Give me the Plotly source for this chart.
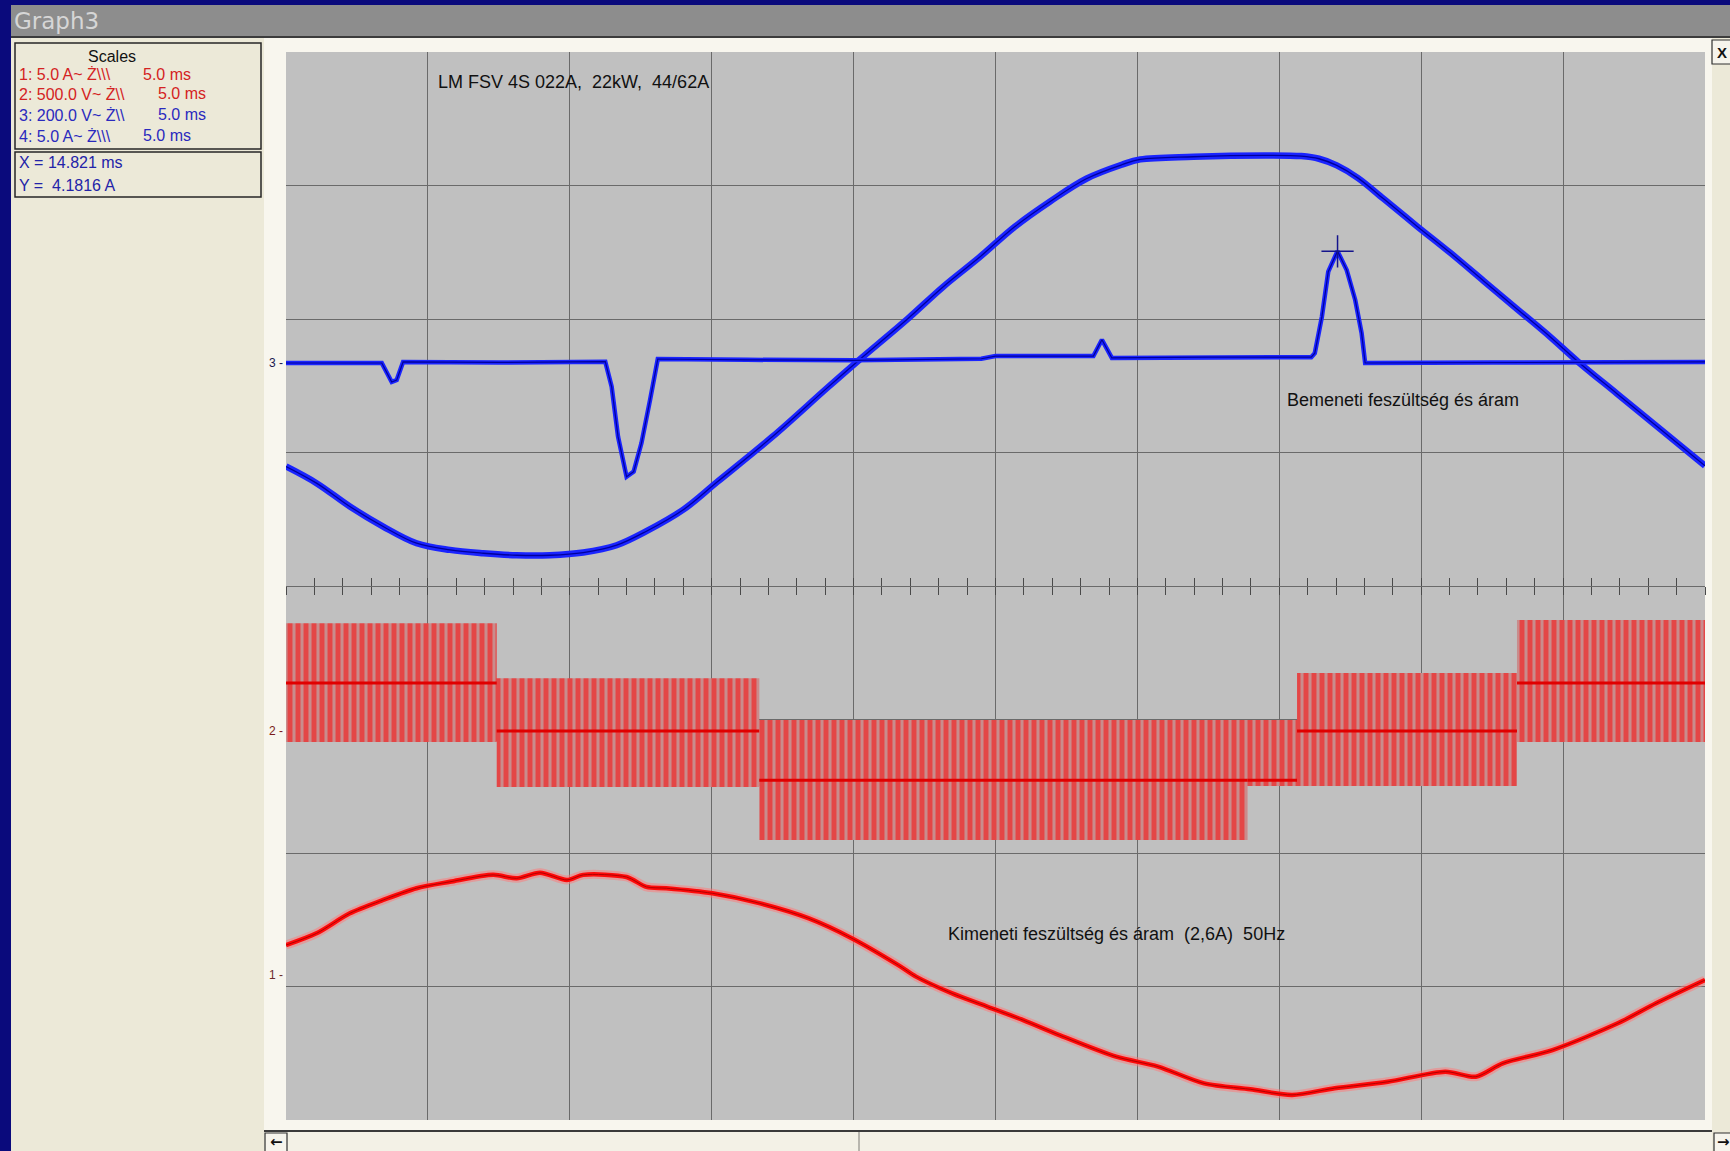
import plotly.graph_objects as go

# ---------------- data ----------------
# Channel 3: input voltage (blue), 200 V/div
ch3_t_ms = [0.0, 0.43, 0.90, 1.37, 1.84, 2.31, 2.78, 3.25, 3.72, 4.19, 4.66, 5.08, 5.61, 6.08,
            6.85, 7.62, 8.05, 8.76, 9.26, 9.77, 10.27, 10.77, 11.28, 11.78, 12.04, 12.79, 13.80,
            14.31, 14.56, 14.81, 15.11, 15.47, 15.94, 16.41, 16.88, 17.35, 17.82, 18.21, 18.76,
            19.23, 19.69, 20.0]
ch3_v = [-155, -180, -215, -245, -270, -280, -285, -288, -288, -284, -273, -252, -219, -178,
         -111, -38, 2, 66, 114, 158, 204, 242, 276, 297, 305, 309, 311,
         310, 306, 296, 277, 246, 205, 165, 123, 81, 39, 2, -46,
         -87, -127, -154]

# Channel 4: input current (blue), 5 A/div
ch4_t_ms = [0.0, 1.35, 1.49, 1.56, 1.65, 3.0, 4.50, 4.59, 4.68, 4.80, 4.90, 5.01, 5.13, 5.24,
            6.5, 8.0, 9.8, 10.0, 11.38, 11.50, 11.64, 13.0, 14.45, 14.50, 14.60, 14.69, 14.82,
            14.95, 15.07, 15.16, 15.21, 17.0, 20.0]
ch4_a = [0.0, 0.0, -0.71, -0.64, 0.04, 0.02, 0.05, -0.89, -2.76, -4.26, -4.07, -3.00, -1.40, 0.15,
         0.12, 0.10, 0.16, 0.26, 0.26, 0.87, 0.19, 0.22, 0.22, 0.37, 1.73, 3.42, 4.19,
         3.48, 2.36, 1.12, 0.0, 0.02, 0.04]

# Channel 1: output current (red), 5 A/div
ch1_t_ms = [0.0, 0.43, 0.90, 1.37, 1.84, 2.31, 2.92, 3.25, 3.58, 3.96, 4.19, 4.80, 5.08, 5.36,
            6.01, 6.67, 7.37, 7.98, 8.63, 8.88, 9.39, 9.89, 10.39, 10.90, 11.70, 12.29, 12.94,
            13.59, 14.18, 14.78, 15.53, 16.34, 16.77, 17.15, 17.85, 18.77, 19.31, 20.0]
ch1_a = [1.12, 1.56, 2.31, 2.81, 3.25, 3.49, 3.75, 3.62, 3.83, 3.56, 3.75, 3.67, 3.30, 3.25,
         3.06, 2.69, 2.12, 1.37, 0.37, -0.06, -0.69, -1.19, -1.69, -2.25, -3.06, -3.43, -4.06,
         -4.28, -4.49, -4.24, -4.00, -3.62, -3.81, -3.31, -2.81, -1.81, -1.06, -0.19]

# Channel 2: output PWM voltage (red), 500 V/div -- segments of the pulse pattern
pwm_start_ms = [0.0, 2.97, 6.67, 13.55, 14.25, 17.35]
pwm_end_ms = [2.97, 6.67, 13.55, 14.25, 17.35, 20.0]
pwm_top_v = [404, 198, 41, 41, 217, 416]
pwm_bottom_v = [-41, -210, -408, -206, -206, -41]
pwm_base_v = [180, 0, -184, -184, 0, 180]

# cursor read-out
cursor_x_ms = 14.821
cursor_y_a = 4.1816

# grid (10 divisions across)
x_grid_ms = [0, 2, 4, 6, 8, 10, 12, 14, 16, 18]
minor_tick_ms = 0.4

scale_lines = ["1: 5.0 A~ Ż\\\\\\", "2: 500.0 V~ Ż\\\\", "3: 200.0 V~ Ż\\\\", "4: 5.0 A~ Ż\\\\\\"]
scale_time = ["5.0 ms", "5.0 ms", "5.0 ms", "5.0 ms"]
cursor_lines = ["X = 14.821 ms", "Y =\u00a0 4.1816 A"]

# ---------------- geometry ----------------
W, H = 1730, 1151
L, R, T, B = 286, 1705, 52, 1120
DIV = (B - T) / 8.0
CENTER = (T + B) / 2.0


def fx(p):
    return (p - L) / (R - L)


def fy(p):
    return (B - p) / (B - T)


def ch_range(zero_px, per_div):
    z = (CENTER - zero_px) / DIV
    return [(-4 - z) * per_div, (4 - z) * per_div]


def grid_vals(zero_px, per_div):
    z = (CENTER - zero_px) / DIV
    return [(k - z) * per_div for k in range(-3, 5)]


ZERO3, ZERO4, ZERO1, ZERO2 = 363, 363, 975, 731

BLUE = "#1A24FF"
BLUE_CORE = "#00009A"
RED = "#FF0A0A"
RED_CORE = "#B00000"
FONT = "Liberation Sans, Arial, sans-serif"

fig = go.Figure()

# channel 3 voltage (blue sine)
fig.add_trace(go.Scatter(x=ch3_t_ms, y=ch3_v, mode="lines", xaxis="x", yaxis="y",
                         line=dict(color=BLUE, width=6.5, shape="spline", smoothing=1.0),
                         hoverinfo="skip", showlegend=False))
fig.add_trace(go.Scatter(x=ch3_t_ms, y=ch3_v, mode="lines", xaxis="x", yaxis="y",
                         line=dict(color=BLUE_CORE, width=1.3, shape="spline", smoothing=1.0),
                         hoverinfo="skip", showlegend=False))
# channel 4 current (blue pulses)
fig.add_trace(go.Scatter(x=ch4_t_ms, y=ch4_a, mode="lines", xaxis="x", yaxis="y2",
                         line=dict(color=BLUE, width=4.5),
                         hoverinfo="skip", showlegend=False))
fig.add_trace(go.Scatter(x=ch4_t_ms, y=ch4_a, mode="lines", xaxis="x", yaxis="y2",
                         line=dict(color=BLUE_CORE, width=1.2),
                         hoverinfo="skip", showlegend=False))
fig.add_trace(go.Scatter(x=[cursor_x_ms], y=[cursor_y_a], mode="markers", xaxis="x", yaxis="y2",
                         marker=dict(symbol="cross-thin", size=23,
                                     line=dict(color="#14148C", width=1.5)),
                         hoverinfo="skip", showlegend=False))

# channel 1 current (red sine)
fig.add_trace(go.Scatter(x=ch1_t_ms, y=ch1_a, mode="lines", xaxis="x2", yaxis="y3",
                         line=dict(color="rgba(255,120,120,0.5)", width=9, shape="spline", smoothing=0.8),
                         hoverinfo="skip", showlegend=False))
fig.add_trace(go.Scatter(x=ch1_t_ms, y=ch1_a, mode="lines", xaxis="x2", yaxis="y3",
                         line=dict(color=RED, width=4.5, shape="spline", smoothing=0.8),
                         hoverinfo="skip", showlegend=False))
fig.add_trace(go.Scatter(x=ch1_t_ms, y=ch1_a, mode="lines", xaxis="x2", yaxis="y3",
                         line=dict(color=RED_CORE, width=1.0, shape="spline", smoothing=0.8),
                         hoverinfo="skip", showlegend=False))

# channel 2 PWM (red band with vertical pulse texture)
px_, py_ = [], []
bx_, by_ = [], []
for s, e, tp, bt, bs in zip(pwm_start_ms, pwm_end_ms, pwm_top_v, pwm_bottom_v, pwm_base_v):
    px_ += [s, e, e, s, s, None]
    py_ += [bt, bt, tp, tp, bt, None]
    bx_ += [s, e, None]
    by_ += [bs, bs, None]
fig.add_trace(go.Scatter(x=px_, y=py_, mode="lines", xaxis="x3", yaxis="y4",
                         fill="toself", fillcolor="rgba(0,0,0,0)",
                         fillpattern=dict(shape="|", fgcolor="#FF0000", bgcolor="#C98C8C",
                                          size=8, solidity=0.62),
                         line=dict(width=0, color="rgba(0,0,0,0)"),
                         hoverinfo="skip", showlegend=False))
fig.add_trace(go.Scatter(x=bx_, y=by_, mode="lines", xaxis="x3", yaxis="y4",
                         line=dict(color="#E00000", width=3),
                         hoverinfo="skip", showlegend=False))

GRID = "#6A6A6A"
hidden_y = dict(overlaying="y", visible=False, fixedrange=True)

fig.update_layout(
    width=W, height=H,
    margin=dict(l=L, r=W - R, t=T, b=H - B, pad=0),
    paper_bgcolor="#F8F6EE",
    plot_bgcolor="#C0C0C0",
    showlegend=False,
    xaxis=dict(range=[0, 20], tickvals=x_grid_ms, showgrid=True, gridcolor=GRID, gridwidth=1,
               showticklabels=False, ticks="", zeroline=False, showline=False, fixedrange=True),
    yaxis=dict(range=ch_range(ZERO3, 200), tickvals=grid_vals(ZERO3, 200), showgrid=True,
               gridcolor=GRID, gridwidth=1, showticklabels=False, ticks="", zeroline=False,
               showline=False, fixedrange=True),
    xaxis2=dict(overlaying="x", anchor="free", position=0.5, range=[0, 20], tick0=0,
                dtick=minor_tick_ms, ticks="outside", ticklen=8, tickwidth=1, tickcolor="#4A4A4A",
                showgrid=False, showticklabels=False, zeroline=False, showline=False, fixedrange=True),
    xaxis3=dict(overlaying="x", anchor="free", position=0.5, range=[0, 20], tick0=0,
                dtick=minor_tick_ms, ticks="inside", ticklen=8, tickwidth=1, tickcolor="#4A4A4A",
                showgrid=False, showticklabels=False, zeroline=False, showline=False, fixedrange=True),
    yaxis2=dict(range=ch_range(ZERO4, 5), anchor="x", **hidden_y),
    yaxis3=dict(range=ch_range(ZERO1, 5), anchor="x2", **hidden_y),
    yaxis4=dict(range=ch_range(ZERO2, 500), anchor="x3", **hidden_y),
)

# ---------------- window chrome ----------------
shapes = []


def rect(x0, y0, x1, y1, fill, line_color=None, lw=0):
    shapes.append(dict(type="rect", xref="paper", yref="paper",
                       x0=fx(x0), x1=fx(x1), y0=fy(y1), y1=fy(y0),
                       fillcolor=fill, layer="below",
                       line=dict(color=line_color or "rgba(0,0,0,0)", width=lw)))


NAVY = "#0A0A7C"
BEIGE = "#ECE9D8"
rect(0, 0, 11, H, NAVY)
rect(0, 0, W, 5, NAVY)
rect(11, 5, W, 36, "#8D8D8D")
rect(11, 36, W, 38, "#3C3C3C")
rect(11, 38, 264, H, BEIGE)
rect(1712, 38, W, H, BEIGE)
rect(264, 1130, 1712, 1132, "#3A3A3A")
rect(264, 1132, 1712, H, "#F3F1E6")
rect(858, 1132, 860, H, "#B8B6AE")
rect(15, 43, 261, 149, "rgba(0,0,0,0)", "#262626", 1.5)
rect(15, 152, 261, 197, "rgba(0,0,0,0)", "#262626", 1.5)
rect(1712, 40, 1732, 64, "#F6F4EC", "#303030", 1.2)
rect(265, 1133, 287, 1152, "#F6F4EC", "#303030", 1.2)
rect(1714, 1133, 1732, 1152, "#F6F4EC", "#303030", 1.2)
fig.update_layout(shapes=shapes)

ann = []


def text(x, y, s, size, color, anchor="left", family=FONT, bold=False):
    if bold:
        s = "<b>" + s + "</b>"
    ann.append(dict(x=fx(x), y=fy(y), xref="paper", yref="paper", text=s, showarrow=False,
                    xanchor=anchor, yanchor="middle",
                    font=dict(size=size, color=color, family=family)))


text(12, 21, "Graph3", 23, "#D6D6D6", family="DejaVu Sans, sans-serif")
text(112, 57, "Scales", 16, "#111111", anchor="center")
line_y = [74, 94, 115, 136]
line_col = ["#D42222", "#D42222", "#2A2ABE", "#2A2ABE"]
time_x = [141, 156, 156, 141]
for s, tt, yy, cc, tx in zip(scale_lines, scale_time, line_y, line_col, time_x):
    text(17, yy, s, 16, cc)
    text(tx, yy, tt, 16, cc)
text(17, 163, cursor_lines[0], 16, "#2323A8")
text(17, 185, cursor_lines[1], 16, "#2323A8")
text(1722, 52, "X", 15, "#111111", anchor="center", bold=True)
text(276, 1142, "←", 15, "#111111", anchor="center", family="DejaVu Sans, sans-serif", bold=True)
text(1723, 1142, "→", 15, "#111111", anchor="center", family="DejaVu Sans, sans-serif", bold=True)

text(436, 82, "LM FSV 4S 022A,\u00a0 22kW,\u00a0 44/62A", 18, "#111111")
text(1285, 400, "Bemeneti feszültség és áram", 18, "#111111")
text(946, 934, "Kimeneti feszültség és áram\u00a0 (2,6A)\u00a0 50Hz", 18, "#111111")

# channel zero markers on the left edge
for lab, yref, col in [("3 -", "y", "#1A1A50"), ("2 -", "y4", "#7A1A1A"), ("1 -", "y3", "#6A2A2A")]:
    ann.append(dict(x=0, y=0, xref="paper", yref=yref, text=lab, showarrow=False,
                    xanchor="right", yanchor="middle", xshift=-1,
                    font=dict(size=12, color=col, family=FONT)))

fig.update_layout(annotations=ann)

fig.write_html("out.html", config={"displayModeBar": False},
               post_script="document.body.style.margin='0';document.body.style.overflow='hidden';")
